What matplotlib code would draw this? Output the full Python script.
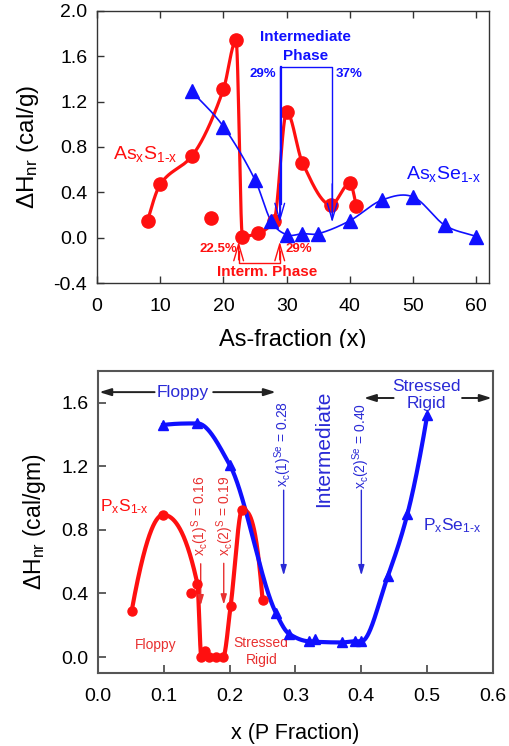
import numpy as np
import matplotlib
matplotlib.use("Agg")
import matplotlib.pyplot as plt
from matplotlib.patches import Rectangle

plt.rcParams['font.family'] = ['Liberation Sans', 'DejaVu Sans']
plt.rcParams['mathtext.fontset'] = 'custom'
plt.rcParams['mathtext.rm'] = 'Liberation Sans'
plt.rcParams['mathtext.it'] = 'Liberation Sans:italic'

# ---------------- data: top panel (As-S / As-Se) ----------------
as_s_x = [8, 10, 15, 18, 20, 22, 23, 25.5, 28, 30, 32.5, 37, 40, 41]
as_s_y = [0.15, 0.47, 0.72, 0.17, 1.31, 1.74, 0.01, 0.04, 0.15, 1.11, 0.66, 0.29, 0.48, 0.28]
as_s_on_curve = [1, 1, 1, 0, 1, 1, 1, 1, 1, 1, 1, 1, 1, 1]

as_se_x = [15, 20, 25, 27.5, 30, 32.5, 35, 40, 45, 50, 55, 60]
as_se_y = [1.29, 0.98, 0.51, 0.15, 0.026, 0.035, 0.035, 0.15, 0.33, 0.36, 0.11, 0.01]

top_xticks = [0, 10, 20, 30, 40, 50, 60]
top_yticks = [-0.4, 0.0, 0.4, 0.8, 1.2, 1.6, 2.0]

# ---------------- data: bottom panel (P-S / P-Se) ----------------
p_s_x = [0.051, 0.099, 0.141, 0.151, 0.157, 0.163, 0.169, 0.180, 0.190, 0.2015, 0.219, 0.250]
p_s_y = [0.287, 0.895, 0.405, 0.46, 0.0, 0.038, 0.0, 0.0, 0.0, 0.323, 0.927, 0.357]
p_s_on_curve = [1, 1, 0, 1, 1, 0, 0, 1, 1, 1, 1, 1]

p_se_x = [0.099, 0.151, 0.200, 0.270, 0.290, 0.320, 0.330, 0.370, 0.390, 0.400, 0.440, 0.470, 0.500]
p_se_y = [1.46, 1.47, 1.21, 0.28, 0.147, 0.099, 0.115, 0.092, 0.099, 0.099, 0.507, 0.90, 1.52]
p_se_on_curve = [1, 1, 1, 1, 1, 1, 0, 1, 1, 1, 1, 1, 1]

bot_xticks = [0.0, 0.1, 0.2, 0.3, 0.4, 0.5, 0.6]
bot_yticks = [0.0, 0.4, 0.8, 1.2, 1.6]

RED = '#ff1010'
BLUE = '#1010ff'
BLUE_T = '#2a2ad6'
RED_T = '#e83030'


def hermite(x, y, m, xs):
    x = np.asarray(x, float); y = np.asarray(y, float)
    idx = np.clip(np.searchsorted(x, xs) - 1, 0, len(x) - 2)
    h = x[idx + 1] - x[idx]
    t = (xs - x[idx]) / h
    h00 = 2 * t**3 - 3 * t**2 + 1
    h10 = t**3 - 2 * t**2 + t
    h01 = -2 * t**3 + 3 * t**2
    h11 = t**3 - t**2
    return h00 * y[idx] + h10 * h * m[idx] + h01 * y[idx + 1] + h11 * h * m[idx + 1]


def pchip(x, y, xs):
    x = np.asarray(x, float); y = np.asarray(y, float)
    n = len(x)
    h = np.diff(x); d = np.diff(y) / h
    m = np.zeros(n)
    for k in range(1, n - 1):
        if d[k - 1] * d[k] <= 0:
            m[k] = 0
        else:
            w1 = 2 * h[k] + h[k - 1]
            w2 = h[k] + 2 * h[k - 1]
            m[k] = (w1 + w2) / (w1 / d[k - 1] + w2 / d[k])

    def end(h0, h1, d0, d1):
        mm = ((2 * h0 + h1) * d0 - h0 * d1) / (h0 + h1)
        if np.sign(mm) != np.sign(d0):
            mm = 0
        elif np.sign(d0) != np.sign(d1) and abs(mm) > abs(3 * d0):
            mm = 3 * d0
        return mm
    m[0] = end(h[0], h[1], d[0], d[1])
    m[-1] = end(h[-1], h[-2], d[-1], d[-2])
    return hermite(x, y, m, xs)


def cardinal(x, y, xs):
    x = np.asarray(x, float); y = np.asarray(y, float)
    n = len(x)
    m = np.zeros(n)
    m[1:-1] = (y[2:] - y[:-2]) / (x[2:] - x[:-2])
    m[0] = (y[1] - y[0]) / (x[1] - x[0])
    m[-1] = (y[-1] - y[-2]) / (x[-1] - x[-2])
    return hermite(x, y, m, xs)


def subset(xv, yv, mask):
    return (np.array([a for a, f in zip(xv, mask) if f]),
            np.array([b for b, f in zip(yv, mask) if f]))


fig = plt.figure(figsize=(5.09, 7.46), dpi=100)

# ================= TOP PANEL =================
ax1 = fig.add_axes([0.1906, 0.6206, 0.7701, 0.3647])
ax1.set_xlim(0, 62)
ax1.set_ylim(-0.4, 2.0)

cx, cy = subset(as_s_x, as_s_y, as_s_on_curve)
xs = np.linspace(cx[0], cx[-1], 800)
ax1.plot(xs, pchip(cx, cy, xs), color=RED, lw=2.3, zorder=3)
ax1.plot(as_s_x, as_s_y, 'o', color=RED, ms=9.5, zorder=4)

xs2 = np.linspace(as_se_x[0], as_se_x[-1], 600)
ax1.plot(xs2, cardinal(as_se_x, as_se_y, xs2), color=BLUE, lw=1.2, zorder=3)
ax1.plot(as_se_x, as_se_y, '^', color=BLUE, ms=9.5, zorder=4)

# blue intermediate-phase bracket
ax1.plot([28.9, 28.9, 37.2, 37.2], [0.2, 1.51, 1.51, 0.2], color=BLUE, lw=1.0, zorder=5)
ax1.plot([29.05, 29.05], [0.3, 1.51], color=BLUE, lw=1.6, zorder=5)
for xa in (28.9, 37.2):
    ax1.annotate('', xy=(xa, 0.11), xytext=(xa, 0.5),
                 arrowprops=dict(arrowstyle='->,head_length=1.2,head_width=0.35',
                                 color=BLUE, lw=1.0), zorder=5)
ax1.text(33.0, 1.768, 'Intermediate', color=BLUE, fontsize=11, fontweight='bold',
         ha='center', va='center')
ax1.text(33.0, 1.606, 'Phase', color=BLUE, fontsize=11, fontweight='bold',
         ha='center', va='center')
ax1.text(28.4, 1.445, '29%', color=BLUE, fontsize=9.5, fontweight='bold',
         ha='right', va='center')
ax1.text(37.8, 1.445, '37%', color=BLUE, fontsize=9.5, fontweight='bold',
         ha='left', va='center')

# red interm. phase bracket
ax1.plot([22.4, 22.4, 28.9, 28.9], [-0.12, -0.22, -0.22, -0.12], color=RED, lw=1.0, zorder=5)
for xa in (22.4, 28.9):
    ax1.annotate('', xy=(xa, -0.01), xytext=(xa, -0.22),
                 arrowprops=dict(arrowstyle='->,head_length=1.2,head_width=0.35',
                                 color=RED, lw=1.0), zorder=5)
ax1.text(22.2, -0.1, '22.5%', color=RED, fontsize=9.5, fontweight='bold',
         ha='right', va='center')
ax1.text(29.85, -0.1, '29%', color=RED, fontsize=9.5, fontweight='bold',
         ha='left', va='center')
ax1.text(26.9, -0.30, 'Interm. Phase', color=RED, fontsize=11, fontweight='bold',
         ha='center', va='center')

ax1.text(2.5, 0.735, r'As$_\mathregular{x}$S$_\mathregular{1\text{-}x}$', color=RED,
         fontsize=14, ha='left', va='center')
ax1.text(48.8, 0.565, r'As$_\mathregular{x}$Se$_\mathregular{1\text{-}x}$', color=BLUE,
         fontsize=14, ha='left', va='center')

ax1.set_xticks(top_xticks)
ax1.set_yticks(top_yticks)
ax1.set_yticklabels([f'{v:.1f}' for v in top_yticks])
ax1.tick_params(axis='x', direction='in', top=True, bottom=True, length=5,
                width=1, labelsize=14, pad=11, color='#333333')
ax1.tick_params(axis='y', direction='in', left=True, right=False, length=5,
                width=1, labelsize=14, pad=7, color='#333333')
for s in ax1.spines.values():
    s.set_color('#333333'); s.set_linewidth(1.0)
ax1.set_xlabel('As-fraction (x)', fontsize=17, va='center')
ax1.xaxis.set_label_coords(0.5, -0.21)
ax1.set_ylabel(r'$\Delta$H$_\mathregular{nr}$ (cal/g)', fontsize=17.5, va='center')
ax1.yaxis.set_label_coords(-0.176, 0.5)

# ================= BOTTOM PANEL =================
ax2 = fig.add_axes([0.1925, 0.0979, 0.7761, 0.4048])
ax2.set_xlim(0, 0.6)
ax2.set_ylim(-0.1, 1.8)

rx, ry = subset(p_s_x, p_s_y, p_s_on_curve)
xs3 = np.linspace(rx[0], rx[-1], 800)
ax2.plot(xs3, pchip(rx, ry, xs3), color=RED, lw=3.0, zorder=3)
ax2.plot(p_s_x, p_s_y, 'o', color=RED, ms=6.5, zorder=4)

bx, by = subset(p_se_x, p_se_y, p_se_on_curve)
xs4 = np.linspace(bx[0], bx[-1], 800)
ax2.plot(xs4, pchip(bx, by, xs4), color=BLUE, lw=3.0, zorder=3)
ax2.plot(p_se_x, p_se_y, '^', color=BLUE, ms=6.5, zorder=4)

black_arrow = dict(arrowstyle='-|>,head_length=0.7,head_width=0.22', color='#222222', lw=1.4,
                   shrinkA=0, shrinkB=0)
ax2.annotate('', xy=(0.002, 1.667), xytext=(0.086, 1.667), arrowprops=black_arrow)
ax2.annotate('', xy=(0.27, 1.667), xytext=(0.175, 1.667), arrowprops=black_arrow)
ax2.annotate('', xy=(0.404, 1.63), xytext=(0.449, 1.63), arrowprops=black_arrow)
ax2.annotate('', xy=(0.598, 1.63), xytext=(0.553, 1.63), arrowprops=black_arrow)
ax2.text(0.1294, 1.667, 'Floppy', color=BLUE_T, fontsize=12.5, ha='center', va='center')
ax2.text(0.499, 1.648, 'Stressed\nRigid', color=BLUE_T, fontsize=12.5, ha='center',
         va='center', linespacing=1.15)

blue_arrow = dict(arrowstyle='-|>,head_length=0.6,head_width=0.18', color=BLUE_T, lw=1.0,
                  shrinkA=0, shrinkB=0)
red_arrow = dict(arrowstyle='-|>,head_length=0.6,head_width=0.18', color=RED_T, lw=1.0,
                 shrinkA=0, shrinkB=0)
ax2.annotate('', xy=(0.282, 0.514), xytext=(0.282, 1.05), arrowprops=blue_arrow)
ax2.annotate('', xy=(0.400, 0.514), xytext=(0.400, 1.05), arrowprops=blue_arrow)
ax2.annotate('', xy=(0.156, 0.325), xytext=(0.156, 0.587), arrowprops=red_arrow)
ax2.annotate('', xy=(0.191, 0.33), xytext=(0.191, 0.59), arrowprops=red_arrow)

ax2.text(0.282, 1.34, r'x$_\mathregular{c}$(1)$^\mathregular{Se}$ = 0.28', color=BLUE_T,
         fontsize=10, rotation=90, ha='center', va='center')
ax2.text(0.400, 1.33, r'x$_\mathregular{c}$(2)$^\mathregular{Se}$ = 0.40', color=BLUE_T,
         fontsize=10, rotation=90, ha='center', va='center')
ax2.text(0.342, 1.31, 'Intermediate', color=BLUE_T, fontsize=15, rotation=90,
         ha='center', va='center')
ax2.text(0.156, 0.89, r'x$_\mathregular{c}$(1)$^\mathregular{S}$ = 0.16', color=RED_T,
         fontsize=10, rotation=90, ha='center', va='center')
ax2.text(0.193, 0.89, r'x$_\mathregular{c}$(2)$^\mathregular{S}$ = 0.19', color=RED_T,
         fontsize=10, rotation=90, ha='center', va='center')

ax2.text(0.0025, 0.944, r'P$_\mathregular{x}$S$_\mathregular{1\text{-}x}$', color=RED,
         fontsize=12.5, ha='left', va='center')
ax2.text(0.494, 0.828, r'P$_\mathregular{x}$Se$_\mathregular{1\text{-}x}$', color=BLUE_T,
         fontsize=12.5, ha='left', va='center')
ax2.text(0.088, 0.073, 'Floppy', color=RED_T, fontsize=10, ha='center', va='center')
ax2.text(0.248, 0.035, 'Stressed\nRigid', color=RED_T, fontsize=10, ha='center',
         va='center', linespacing=1.2)

ax2.set_xticks(bot_xticks)
ax2.set_xticklabels([f'{v:.1f}' for v in bot_xticks])
ax2.set_yticks(bot_yticks)
ax2.set_yticklabels([f'{v:.1f}' for v in bot_yticks])
ax2.tick_params(axis='both', direction='in', top=False, right=False, length=6,
                width=1.2, labelsize=14, color='#444444')
ax2.tick_params(axis='x', pad=11)
ax2.tick_params(axis='y', pad=7)
for s in ax2.spines.values():
    s.set_color('#555555'); s.set_linewidth(1.5)
ax2.set_xlabel('x (P Fraction)', fontsize=15.5, va='center')
ax2.xaxis.set_label_coords(0.5, -0.199)
ax2.set_ylabel(r'$\Delta$H$_\mathregular{nr}$ (cal/gm)', fontsize=16.5, va='center')
ax2.yaxis.set_label_coords(-0.16, 0.5)

# white gap between the two stacked figures (top label is clipped)
fig.add_artist(Rectangle((0, 1 - 369 / 746), 1, 21 / 746, transform=fig.transFigure,
                         facecolor='white', edgecolor='none', zorder=10))

fig.savefig('out.png', dpi=100)
